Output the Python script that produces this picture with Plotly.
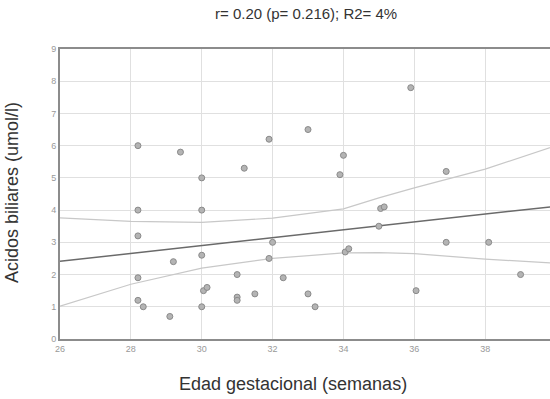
import plotly.graph_objects as go

# Data points
edad = [28.2, 29.4, 30.0, 31.2, 31.9, 33.0, 34.0, 33.9, 35.9, 36.9,
        28.2, 30.0, 28.2, 32.0, 29.2, 30.0, 28.2, 31.0, 31.9, 30.05,
        30.15, 28.2, 28.35, 29.1, 30.0, 31.0, 31.0, 31.5, 32.3, 33.0,
        33.2, 34.05, 34.15, 35.0, 35.05, 35.15, 36.05, 36.9, 38.1, 39.0]
acidos = [6.0, 5.8, 5.0, 5.3, 6.2, 6.5, 5.7, 5.1, 7.8, 5.2,
          4.0, 4.0, 3.2, 3.0, 2.4, 2.6, 1.9, 2.0, 2.5, 1.5,
          1.6, 1.2, 1.0, 0.7, 1.0, 1.3, 1.2, 1.4, 1.9, 1.4,
          1.0, 2.7, 2.8, 3.5, 4.05, 4.1, 1.5, 3.0, 3.0, 2.0]

# Regression line (read endpoints)
fit_x = [26, 40]
fit_y = [2.41, 4.12]

# Confidence band
ci_x = [26, 28, 30, 32, 34, 35, 36, 38, 40]
ci_upper = [3.76, 3.65, 3.62, 3.75, 4.04, 4.38, 4.69, 5.27, 6.0]
ci_lower = [1.02, 1.70, 2.20, 2.50, 2.67, 2.68, 2.65, 2.48, 2.35]

x_ticks = [26, 28, 30, 32, 34, 36, 38, 40]
y_ticks = [0, 1, 2, 3, 4, 5, 6, 7, 8, 9]

FONT = "Liberation Sans, Arial, sans-serif"

fig = go.Figure()
fig.add_trace(go.Scatter(x=ci_x, y=ci_upper, mode="lines",
                         line=dict(color="#c8c8c8", width=1.2), hoverinfo="skip"))
fig.add_trace(go.Scatter(x=ci_x, y=ci_lower, mode="lines",
                         line=dict(color="#c8c8c8", width=1.2), hoverinfo="skip"))
fig.add_trace(go.Scatter(x=fit_x, y=fit_y, mode="lines",
                         line=dict(color="#6a6a6a", width=1.5)))
fig.add_trace(go.Scatter(x=edad, y=acidos, mode="markers",
                         marker=dict(symbol="circle", size=6, color="#b4b4b4",
                                     line=dict(color="#8a8a8a", width=1))))

fig.update_layout(
    width=550, height=399,
    margin=dict(l=60, r=0, t=49, b=60),
    paper_bgcolor="white", plot_bgcolor="white",
    showlegend=False,
    font=dict(family=FONT, color="#333"),
)
fig.update_xaxes(range=[26, 39.83], tickvals=x_ticks, showgrid=True,
                 gridcolor="#e0e0e0", gridwidth=1, zeroline=False,
                 showline=True, linecolor="#8c8c8c", linewidth=2, mirror=True,
                 ticks="", tickfont=dict(size=9, color="#999"))
fig.update_yaxes(range=[0, 9], tickvals=y_ticks, showgrid=True,
                 gridcolor="#e0e0e0", gridwidth=1, zeroline=False,
                 showline=True, linecolor="#8c8c8c", linewidth=2,
                 ticks="", tickfont=dict(size=9, color="#999"))

fig.add_annotation(text="r= 0.20 (p= 0.216); R2= 4%", xref="paper", yref="paper",
                   x=0.502, y=1.124, xanchor="center", yanchor="middle",
                   showarrow=False, font=dict(size=15, color="#333", family=FONT))
fig.add_annotation(text="Edad gestacional (semanas)", xref="paper", yref="paper",
                   x=0.475, y=-0.155, xanchor="center", yanchor="middle",
                   showarrow=False, font=dict(size=18, color="#333", family=FONT))
fig.add_annotation(text="Acidos biliares (umol/l)", xref="paper", yref="paper",
                   x=-0.098, y=0.507, xanchor="center", yanchor="middle",
                   textangle=-90,
                   showarrow=False, font=dict(size=18, color="#333", family=FONT))

fig.write_html("out.html",
               config={"displayModeBar": False},
               post_script="document.body.style.margin='0';document.body.style.overflow='hidden';")
